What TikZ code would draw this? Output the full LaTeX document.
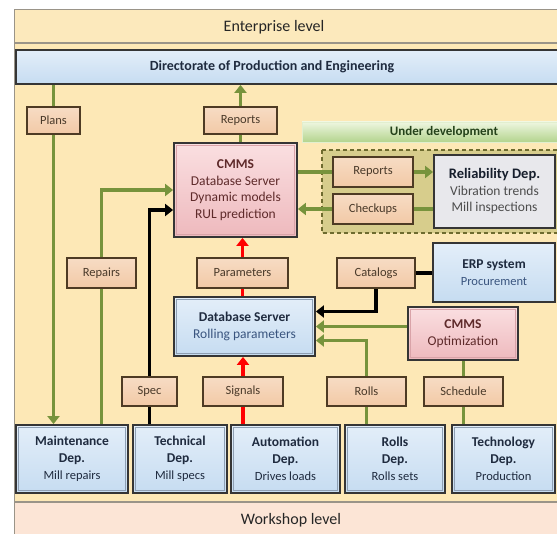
\documentclass[tikz,border=0pt]{standalone}
\usepackage{fontspec}
\setmainfont{Carlito}
\usetikzlibrary{arrows.meta}

\definecolor{mainfill}{HTML}{FDE8B6}
\definecolor{entfill}{HTML}{FCE9BC}
\definecolor{shopfill}{HTML}{FCE5D6}
\definecolor{framegray}{HTML}{9A9488}
\definecolor{lbltop}{HTML}{F7DCC4}
\definecolor{lblmid}{HTML}{FCEFE5}
\definecolor{lblbot}{HTML}{F2C9A6}
\definecolor{lblborder}{HTML}{4E3B24}
\definecolor{lbltext}{HTML}{4A3A2A}
\definecolor{bluetop}{HTML}{E3EEF9}
\definecolor{bluebot}{HTML}{C6DCF1}
\definecolor{bluebevel}{HTML}{8E9FB3}
\definecolor{pinkbevel}{HTML}{D9A3A8}
\definecolor{boxborder}{HTML}{353535}
\definecolor{pinktop}{HTML}{FADFE1}
\definecolor{pinkbot}{HTML}{EEB9BD}
\definecolor{greyfill}{HTML}{E8E8EC}
\definecolor{navy}{HTML}{1F2B3F}
\definecolor{maroon}{HTML}{5E2A2A}
\definecolor{subblue}{HTML}{3A557F}
\definecolor{arrgreen}{HTML}{77933C}
\definecolor{olivefill}{HTML}{D7CD8C}
\definecolor{olivedash}{HTML}{6E6B2F}
\definecolor{devtop}{HTML}{EEF6DF}
\definecolor{devbot}{HTML}{B3D48E}
\definecolor{devtext}{HTML}{24421A}

\pgfdeclarelayer{bg}
\pgfdeclarelayer{links}
\pgfsetlayers{bg,links,main}

\tikzset{
  lbl/.style={draw=lblborder, line width=1.4pt, top color=lbltop, middle color=lblmid,
    bottom color=lblbot, text=lbltext, inner sep=0pt, font=\fontsize{12.5}{15}\selectfont},
  bevel/.style={path picture={\draw[#1, line width=1.6pt]
    ([shift={(2.6pt,-2.6pt)}]path picture bounding box.north west) rectangle
    ([shift={(-2.6pt,2.6pt)}]path picture bounding box.south east);}},
  bevel/.default=bluebevel,
  bluebox/.style={draw=boxborder, line width=1.8pt, top color=bluetop, bottom color=bluebot,
    align=center, inner sep=0pt, text=navy, font=\fontsize{13.5}{17}\selectfont},
  dept/.style={bluebox, bevel},
  pinkbox/.style={draw=boxborder, line width=1.8pt, top color=pinktop, bottom color=pinkbot,
    bevel=pinkbevel, align=center, inner sep=0pt, text=maroon, font=\fontsize{13.5}{16.5}\selectfont},
  greybox/.style={draw=boxborder, line width=1.8pt, fill=greyfill,
    align=center, inner sep=0pt, text=navy!70!black, font=\fontsize{13.5}{16.5}\selectfont},
  tip/.style={-{Triangle[width=12pt,length=8pt]}},
  gline/.style={draw=arrgreen, line width=3.5pt},
  garr/.style={gline, tip},
  bline/.style={draw=black, line width=3.5pt},
  barr/.style={bline, tip},
  rarr/.style={draw=red, line width=3.5pt, tip},
}

\newcommand{\subtxt}[1]{{\mdseries\fontsize{12.5}{16}\selectfont #1}}

\begin{document}
\begin{tikzpicture}[x=1pt,y=-1pt]
\useasboundingbox (0,0) rectangle (557,534);

\begin{pgfonlayer}{bg}
  \fill[white] (0,0) rectangle (557,534);
  \fill[entfill] (14,10) rectangle (570,43);
  \fill[mainfill] (14,43) rectangle (570,502);
  \fill[shopfill] (14,502) rectangle (570,545);
  \draw[framegray, line width=1pt] (570,10) -- (14,10) -- (14,545);
  \draw[framegray, line width=1.3pt] (14,43) -- (570,43);
  \draw[framegray, line width=1.3pt] (14,502) -- (570,502);
  % area under development
  \draw[olivedash, fill=olivefill, line width=1.5pt, dash pattern=on 4pt off 3pt]
    (322,150) rectangle (570,233);
\end{pgfonlayer}

% levels
\node[font=\fontsize{16}{18}\selectfont, text=black!85] (ent) at (274,27) {Enterprise level};
\node[font=\fontsize{16}{18}\selectfont, text=black!85] (shop) at (291,520) {Workshop level};

\node[bluebox, font=\bfseries\fontsize{14}{16}\selectfont, minimum width=544, minimum height=34]
  (dir) at (288,67) {Directorate of Production and Engineering\hspace*{32pt}};
\node[top color=devtop, bottom color=devbot, draw=devtop!80!devbot, line width=0.8pt,
  text=devtext, font=\bfseries\fontsize{13}{15}\selectfont, minimum width=258, minimum height=20,
  inner sep=0pt] (undev) at (431,132) {\hspace*{26pt}Under development};

% labels on the connectors
\node[lbl, minimum width=53, minimum height=27] (plans) at (53.5,120.5) {Plans};
\node[lbl, minimum width=73, minimum height=27] (rep1) at (240.5,120.5) {Reports};
\node[lbl, minimum width=80, minimum height=30] (rep2) at (373,172) {Reports};
\node[lbl, minimum width=80, minimum height=30] (chk) at (373,209) {Checkups};
\node[lbl, minimum width=69, minimum height=30] (repairs) at (101.5,273) {Repairs};
\node[lbl, minimum width=91, minimum height=30] (params) at (242.5,273) {Parameters};
\node[lbl, minimum width=78, minimum height=30] (catalogs) at (376,273) {Catalogs};
\node[lbl, minimum width=55, minimum height=29] (spec) at (149.5,391.5) {Spec};
\node[lbl, minimum width=80, minimum height=29] (signals) at (243,391.5) {Signals};
\node[lbl, minimum width=79, minimum height=29] (rolls) at (366.5,391.5) {Rolls};
\node[lbl, minimum width=79, minimum height=29] (sched) at (463.5,391.5) {Schedule};

% systems
\node[pinkbox, minimum width=123, minimum height=94] (cmms) at (235.5,190)
  {\textbf{CMMS}\\Database Server\\Dynamic models\\RUL prediction};
\node[greybox, minimum width=121, minimum height=73] (rel) at (494.5,191.5)
  {\textbf{\fontsize{14.5}{16.5}\selectfont Reliability Dep.}\\\textcolor{black!70}{Vibration trends}\\\textcolor{black!70}{Mill inspections}};
\node[bluebox, minimum width=122, minimum height=59] (erp) at (494,272.5)
  {\textbf{ERP system}\\\textcolor{subblue}{\subtxt{Procurement}}};
\node[bluebox, bevel, minimum width=141, minimum height=59] (db) at (244.5,326.5)
  {\textbf{Database Server}\\\textcolor{subblue}{Rolling parameters}};
\node[pinkbox, minimum width=110, minimum height=53] (cmmsopt) at (463,333.5)
  {\textbf{CMMS}\\Optimization};

% departments
\node[dept, minimum width=112, minimum height=68] (maint) at (72,459)
  {\textbf{Maintenance}\\\textbf{Dep.}\\\subtxt{Mill repairs}};
\node[dept, minimum width=94, minimum height=68] (tech) at (180,459)
  {\textbf{Technical}\\\textbf{Dep.}\\\subtxt{Mill specs}};
\node[dept, minimum width=109, minimum height=68] (auto) at (285.5,459)
  {\textbf{Automation}\\\textbf{Dep.}\\\subtxt{Drives loads}};
\node[dept, minimum width=100, minimum height=68] (rollsdep) at (395,459)
  {\textbf{Rolls}\\\textbf{Dep.}\\\subtxt{Rolls sets}};
\node[dept, minimum width=103, minimum height=68] (techdep) at (503.5,459)
  {\textbf{Technology}\\\textbf{Dep.}\\\subtxt{Production}};

\begin{pgfonlayer}{links}
  \draw[garr] (dir.south -| plans) -- (maint.north -| plans);
  \draw[garr] (cmms.north -| rep1) -- (dir.south -| rep1);
  \draw[garr] (maint.north -| repairs) |- (cmms.west);
  \draw[barr] (tech.north -| spec) |- ([yshift=-20pt]cmms.west);
  \draw[rarr] (auto.north -| signals) -- (db.south -| signals);
  \draw[rarr] (db.north -| params) -- (cmms.south -| params);
  \draw[garr] (cmms.east |- rep2) -- (rel.west |- rep2);
  \draw[garr] (rel.west |- chk) -- (cmms.east |- chk);
  \draw[bline] (erp.west |- catalogs) -- (catalogs.east);
  \draw[barr] (catalogs.south) |- ([yshift=15pt]db.east);
  \draw[garr] (cmmsopt.west |- db.east) -- (db.east);
  \draw[garr] (rollsdep.north -| rolls) |- ([yshift=-14pt]db.east);
  \draw[gline] (techdep.north -| sched) -- (cmmsopt.south -| sched);
\end{pgfonlayer}
\end{tikzpicture}
\end{document}
